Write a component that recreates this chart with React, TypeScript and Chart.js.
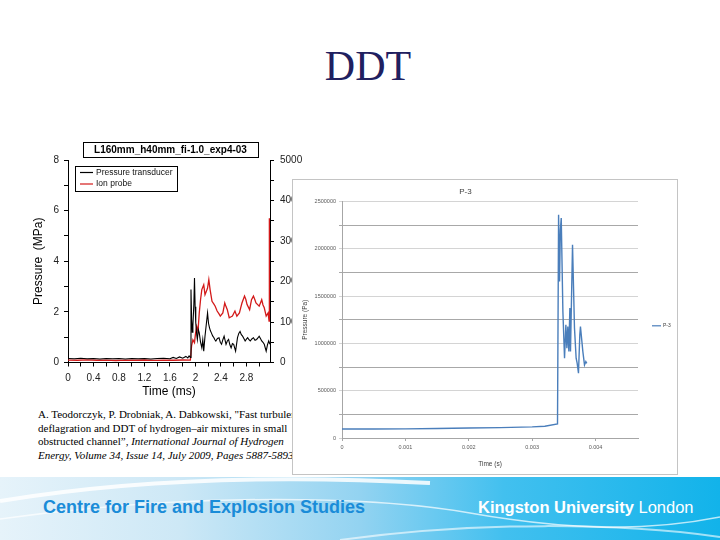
import React, { useEffect, useRef } from "react";
import { Chart, registerables } from "chart.js";

Chart.register(...registerables);

const SANS = '"Liberation Sans", Arial, Helvetica, sans-serif';
const SERIF = '"Liberation Serif", "Times New Roman", Times, serif';

// ---------------- slide text ----------------
const slideTitle = "DDT";
const footerLeft = "Centre for Fire and Explosion Studies";
const footerRightBold = "Kingston University";
const footerRightLight = "London";

// ---------------- left chart (experiment) ----------------
const leftChartTitle = "L160mm_h40mm_fi-1.0_exp4-03";
const leftSeriesNames = ["Pressure transducer", "Ion probe"];
const leftXTitle = "Time (ms)";
const leftYTitle = "Pressure  (MPa)";
const leftXTickLabels = ["0", "0.4", "0.8", "1.2", "1.6", "2", "2.4", "2.8"];
const leftYTickLabels = ["0", "2", "4", "6", "8"];
const leftY2TickLabels = ["0", "1000", "2000", "3000", "4000", "5000"];

// [time ms, pressure MPa]
const pressureTrace: [number, number][] = [
  [0, 0.16], [0.1, 0.15], [0.2, 0.17], [0.3, 0.15], [0.4, 0.16], [0.5, 0.14], [0.6, 0.16],
  [0.7, 0.15], [0.8, 0.16], [0.9, 0.14], [1.0, 0.16], [1.1, 0.15], [1.2, 0.16], [1.3, 0.14],
  [1.4, 0.16], [1.5, 0.17], [1.6, 0.15], [1.65, 0.2], [1.7, 0.16], [1.75, 0.22], [1.8, 0.17],
  [1.85, 0.24], [1.88, 0.18], [1.9, 0.26], [1.92, 0.2], [1.93, 2.88], [1.94, 1.7], [1.95, 1.2],
  [1.96, 1.45], [1.975, 2.3], [1.985, 3.34], [1.995, 2.2], [2.005, 1.57], [2.02, 1.1], [2.03, 0.91],
  [2.045, 1.3], [2.06, 1.17], [2.08, 0.8], [2.1, 0.58], [2.115, 0.9], [2.13, 0.45], [2.15, 1.04],
  [2.17, 1.5], [2.19, 1.96], [2.205, 1.55], [2.22, 1.38], [2.235, 1.25], [2.25, 1.17], [2.27, 1.05],
  [2.29, 0.98], [2.305, 0.9], [2.32, 0.85], [2.345, 0.95], [2.37, 0.98], [2.39, 0.8], [2.41, 0.72],
  [2.43, 0.9], [2.45, 1.04], [2.48, 0.72], [2.5, 0.85], [2.52, 0.91], [2.54, 0.7], [2.56, 0.58],
  [2.58, 0.75], [2.6, 0.72], [2.63, 0.45], [2.66, 0.98], [2.68, 1.15], [2.7, 1.23], [2.72, 1.1],
  [2.74, 1.04], [2.76, 0.95], [2.78, 0.85], [2.8, 0.92], [2.82, 0.98], [2.84, 0.9], [2.86, 0.85],
  [2.885, 0.93], [2.91, 0.98], [2.935, 0.88], [2.96, 0.91], [2.98, 0.97], [3.0, 1.04], [3.02, 0.95],
  [3.04, 0.85], [3.06, 0.8], [3.08, 0.72], [3.11, 0.45], [3.13, 0.7], [3.15, 0.85], [3.17, 0.72],
];

// [time ms, ion probe signal (right axis units)]
const ionTrace: [number, number][] = [
  [0, 60], [0.15, 55], [0.3, 65], [0.45, 55], [0.6, 60], [0.75, 50], [0.9, 60], [1.05, 55],
  [1.2, 62], [1.35, 52], [1.5, 60], [1.65, 55], [1.8, 62], [1.92, 58], [1.94, 420], [1.96, 560],
  [1.985, 490], [2.0, 700], [2.02, 890], [2.04, 770], [2.06, 1225], [2.08, 1550], [2.1, 1800],
  [2.13, 1920], [2.15, 1675], [2.17, 1750], [2.19, 1840], [2.21, 2045], [2.23, 1800], [2.26, 1510],
  [2.29, 1440], [2.31, 1390], [2.34, 1270], [2.37, 1200], [2.39, 1145], [2.43, 1225], [2.46, 1470],
  [2.48, 1380], [2.5, 1305], [2.53, 1105], [2.56, 1130], [2.58, 1145], [2.62, 1270], [2.65, 1145],
  [2.69, 1225], [2.71, 1350], [2.73, 1470], [2.77, 1640], [2.79, 1560], [2.81, 1430], [2.85, 1305],
  [2.88, 1550], [2.91, 1640], [2.93, 1560], [2.95, 1470], [3.0, 1390], [3.02, 1470], [3.04, 1550],
  [3.06, 1420], [3.08, 1350], [3.11, 1145], [3.14, 1225], [3.155, 1025], [3.16, 3560],
];

// ---------------- right chart (simulation P-3) ----------------
const rightChartTitle = "P-3";
const rightSeriesName = "P-3";
const rightXTitle = "Time (s)";
const rightYTitle = "Pressure (Pa)";
const rightXTickLabels = ["0", "0.001", "0.002", "0.003", "0.004"];
const rightYTickLabels = ["0", "500000", "1000000", "1500000", "2000000", "2500000"];

// [time s, pressure Pa]
const p3Trace: [number, number][] = [
  [0, 95000], [0.0005, 95000], [0.001, 97000], [0.0015, 100000], [0.002, 105000],
  [0.0025, 110000], [0.003, 118000], [0.0032, 125000], [0.0034, 150000], [0.003417, 2362000],
  [0.003432, 1656000], [0.003445, 2200000], [0.003459, 2327000], [0.003485, 1338000],
  [0.003511, 844000], [0.003532, 1197000], [0.003548, 950000], [0.003563, 1179000],
  [0.003579, 914000], [0.003595, 1374000], [0.003605, 914000], [0.003637, 2044000],
  [0.003668, 1162000], [0.003694, 844000], [0.00371, 791000], [0.003731, 685000],
  [0.003752, 1091000], [0.003762, 1179000], [0.0038, 914000], [0.003826, 773000],
  [0.003847, 808000], [0.003862, 790000],
];

const seriesColors = ["#000000", "#d31a1a", "#4a7ebb"];

const fmt = (v: number) => String(Math.round(v * 1e6) / 1e6);

const titleBoxPlugin = {
  id: "titleBox",
  afterDraw(chart: any) {
    const tb = chart.titleBlock;
    if (!tb) return;
    const ctx = chart.ctx;
    ctx.save();
    ctx.font = `bold 10px ${SANS}`;
    const tw = ctx.measureText(leftChartTitle).width;
    const cx = (tb.left + tb.right) / 2;
    const cy = tb.top + 8 + 6;
    ctx.strokeStyle = "#000";
    ctx.lineWidth = 1;
    ctx.strokeRect(Math.round(cx - tw / 2 - 11) + 0.5, Math.round(cy - 8) + 0.5, Math.round(tw + 22), 15);
    ctx.restore();
  },
};

const leftLegendPlugin = {
  id: "leftLegend",
  afterDraw(chart: any) {
    const { ctx, chartArea } = chart;
    const x = Math.round(chartArea.left + 7);
    const y = Math.round(chartArea.top + 6);
    ctx.save();
    ctx.fillStyle = "#fff";
    ctx.fillRect(x, y, 102, 25);
    ctx.strokeStyle = "#000";
    ctx.lineWidth = 1;
    ctx.strokeRect(x + 0.5, y + 0.5, 102, 25);
    ctx.font = `8.5px ${SANS}`;
    ctx.textBaseline = "middle";
    leftSeriesNames.forEach((name, i) => {
      const ly = y + 6.5 + i * 11.5;
      ctx.strokeStyle = seriesColors[i];
      ctx.lineWidth = 1.2;
      ctx.beginPath();
      ctx.moveTo(x + 5, ly);
      ctx.lineTo(x + 18, ly);
      ctx.stroke();
      ctx.fillStyle = "#111";
      ctx.fillText(name, x + 21, ly);
    });
    ctx.restore();
  },
};

const rightLegendPlugin = {
  id: "rightLegend",
  afterDraw(chart: any) {
    const { ctx, chartArea } = chart;
    const ly = (chartArea.top + chartArea.bottom) / 2 + 6;
    ctx.save();
    ctx.strokeStyle = seriesColors[2];
    ctx.lineWidth = 1.2;
    ctx.beginPath();
    ctx.moveTo(chartArea.right + 14, ly);
    ctx.lineTo(chartArea.right + 23, ly);
    ctx.stroke();
    ctx.fillStyle = "#404040";
    ctx.font = `5px ${SANS}`;
    ctx.textBaseline = "middle";
    ctx.fillText(rightSeriesName, chartArea.right + 25, ly);
    ctx.restore();
  },
};

export default function App() {
  const leftRef = useRef<HTMLCanvasElement | null>(null);
  const rightRef = useRef<HTMLCanvasElement | null>(null);

  useEffect(() => {
    Chart.defaults.font.family = SANS;
    const left = new Chart(leftRef.current as HTMLCanvasElement, {
      type: "line",
      data: {
        datasets: [
          {
            label: leftSeriesNames[0],
            data: pressureTrace.map(([x, y]) => ({ x, y })),
            borderColor: seriesColors[0],
            borderWidth: 1.1,
            pointRadius: 0,
            tension: 0,
            yAxisID: "y",
          },
          {
            label: leftSeriesNames[1],
            data: ionTrace.map(([x, y]) => ({ x, y })),
            borderColor: seriesColors[1],
            borderWidth: 1.3,
            pointRadius: 0,
            tension: 0,
            yAxisID: "y1",
          },
        ],
      },
      options: {
        animation: false,
        responsive: true,
        maintainAspectRatio: false,
        events: [],
        layout: { padding: { left: 6, right: 0, top: 0, bottom: 0 } },
        plugins: {
          legend: { display: false },
          tooltip: { enabled: false },
          title: {
            display: true,
            text: leftChartTitle,
            color: "#000",
            font: { size: 10, weight: "bold" },
            padding: { top: 8, bottom: 4 },
          },
        },
        scales: {
          x: {
            type: "linear",
            min: 0,
            max: 3.17,
            afterFit: (s: any) => { s.height = 37.5; },
            ticks: {
              stepSize: 0.2,
              includeBounds: false,
              autoSkip: false,
              maxRotation: 0,
              padding: 6,
              color: "#222",
              font: { size: 10 },
              callback: (v: any) => (leftXTickLabels.includes(fmt(Number(v))) ? fmt(Number(v)) : ""),
            },
            grid: { display: true, drawOnChartArea: false, drawTicks: true, tickLength: 4, color: "#000" },
            border: { display: true, color: "#000", width: 1 },
            title: { display: true, text: leftXTitle, color: "#000", font: { size: 12 }, padding: { top: 0, bottom: 1 } },
          },
          y: {
            type: "linear",
            position: "left",
            min: 0,
            max: 8,
            afterFit: (s: any) => { s.width = 42; },
            ticks: {
              stepSize: 1,
              includeBounds: false,
              autoSkip: false,
              padding: 5,
              color: "#222",
              font: { size: 10 },
              callback: (v: any) => (leftYTickLabels.includes(fmt(Number(v))) ? fmt(Number(v)) : ""),
            },
            grid: { display: true, drawOnChartArea: false, drawTicks: true, tickLength: 4, color: "#000" },
            border: { display: true, color: "#000", width: 1 },
            title: { display: true, text: leftYTitle, color: "#000", font: { size: 12 }, padding: { top: 5, bottom: 0 } },
          },
          y1: {
            type: "linear",
            position: "right",
            min: 0,
            max: 5000,
            afterFit: (s: any) => { s.width = 45; },
            ticks: {
              stepSize: 500,
              includeBounds: false,
              autoSkip: false,
              padding: 6,
              color: "#222",
              font: { size: 10 },
              callback: (v: any) => (leftY2TickLabels.includes(fmt(Number(v))) ? fmt(Number(v)) : ""),
            },
            grid: { display: true, drawOnChartArea: false, drawTicks: true, tickLength: 4, color: "#000" },
            border: { display: true, color: "#000", width: 1 },
          },
        },
      } as any,
      plugins: [titleBoxPlugin, leftLegendPlugin],
    });

    const right = new Chart(rightRef.current as HTMLCanvasElement, {
      type: "line",
      data: {
        datasets: [
          {
            label: rightSeriesName,
            data: p3Trace.map(([x, y]) => ({ x, y })),
            borderColor: seriesColors[2],
            borderWidth: 1.4,
            pointRadius: 0,
            tension: 0,
          },
        ],
      },
      options: {
        animation: false,
        responsive: true,
        maintainAspectRatio: false,
        events: [],
        layout: { padding: { left: 0, right: 39, top: 0, bottom: 0 } },
        plugins: {
          legend: { display: false },
          tooltip: { enabled: false },
          title: {
            display: true,
            text: rightChartTitle,
            color: "#404040",
            font: { size: 8, weight: "normal" },
            padding: { top: 7, bottom: 5 },
          },
        },
        scales: {
          x: {
            type: "linear",
            min: 0,
            max: 0.00467,
            afterFit: (s: any) => { s.height = 36; },
            ticks: {
              stepSize: 0.001,
              includeBounds: false,
              autoSkip: false,
              maxRotation: 0,
              padding: 3,
              color: "#595959",
              font: { size: 5.5 },
              callback: (v: any) => (rightXTickLabels.includes(fmt(Number(v))) ? fmt(Number(v)) : ""),
            },
            grid: { display: true, drawOnChartArea: false, drawTicks: true, tickLength: 3, color: "#a6a6a6" },
            border: { display: true, color: "#a6a6a6", width: 1 },
            title: { display: true, text: rightXTitle, color: "#404040", font: { size: 6.5 }, padding: { top: 0, bottom: 6 } },
          },
          y: {
            type: "linear",
            min: 0,
            max: 2500000,
            afterFit: (s: any) => { s.width = 49; },
            ticks: {
              stepSize: 250000,
              includeBounds: false,
              autoSkip: false,
              padding: 3,
              color: "#595959",
              font: { size: 5.5 },
              callback: (v: any) => (rightYTickLabels.includes(fmt(Number(v))) ? fmt(Number(v)) : ""),
            },
            grid: {
              display: true,
              drawTicks: true,
              tickLength: 3,
              color: (c: any) => (c.tick && c.tick.value % 500000 === 0 ? "#d4d4d4" : "#a8a8a8"),
            },
            border: { display: true, color: "#a6a6a6", width: 1 },
            title: { display: true, text: rightYTitle, color: "#404040", font: { size: 6.5 }, padding: { top: 8, bottom: 0 } },
          },
        },
      } as any,
      plugins: [rightLegendPlugin],
    });

    return () => {
      left.destroy();
      right.destroy();
    };
  }, []);

  return (
    <div
      style={{
        position: "fixed",
        left: 0,
        top: 0,
        width: 720,
        height: 540,
        background: "#fff",
        overflow: "hidden",
        fontFamily: SANS,
      }}
    >
      <div
        style={{
          position: "absolute",
          left: 0,
          top: 42,
          width: 736,
          textAlign: "center",
          fontFamily: SERIF,
          fontSize: 42,
          lineHeight: "48px",
          color: "#1f2060",
        }}
      >
        {slideTitle}
      </div>

      <div style={{ position: "absolute", left: 20, top: 136, width: 295, height: 264 }}>
        <canvas ref={leftRef} />
      </div>

      <div
        style={{
          position: "absolute",
          left: 38,
          top: 408,
          fontFamily: SERIF,
          fontSize: 11,
          lineHeight: "13.5px",
          color: "#000",
          whiteSpace: "nowrap",
        }}
      >
        A. Teodorczyk, P. Drobniak, A. Dabkowski, "Fast turbulent
        <br />
        deflagration and DDT of hydrogen–air mixtures in small
        <br />
        obstructed channel”, <i>International Journal of Hydrogen</i>
        <br />
        <i>Energy, Volume 34, Issue 14, July 2009, Pages 5887-5893.</i>
      </div>

      <div
        style={{
          position: "absolute",
          left: 292,
          top: 179,
          width: 386,
          height: 296,
          boxSizing: "border-box",
          border: "1px solid #c4c4c4",
          background: "#fff",
        }}
      >
        <div style={{ position: "relative", width: 384, height: 294 }}>
          <canvas ref={rightRef} />
        </div>
      </div>

      <div
        style={{
          position: "absolute",
          left: 0,
          top: 477,
          width: 720,
          height: 63,
          overflow: "hidden",
          background:
            "linear-gradient(90deg, #e6f3fa 0%, #cde8f6 25%, #93d3f1 50%, #42c0ef 70%, #12b3ea 100%)",
        }}
      >
        <svg width="720" height="63" style={{ position: "absolute", left: 0, top: 0 }}>
          <path d="M0 24 C 120 4, 260 -3, 430 6" stroke="#ffffff" strokeWidth="4" fill="none" opacity="0.85" />
          <path d="M0 42 C 200 14, 380 20, 470 36 S 640 56, 720 40" stroke="#ffffff" strokeWidth="1.5" fill="none" opacity="0.7" />
          <path d="M340 63 C 480 44, 620 46, 720 60" stroke="#ffffff" strokeWidth="2" fill="none" opacity="0.6" />
        </svg>
        <div
          style={{
            position: "absolute",
            left: 43,
            top: 20,
            fontSize: 18,
            lineHeight: "20px",
            fontWeight: "bold",
            color: "#1a8cd8",
            whiteSpace: "nowrap",
          }}
        >
          {footerLeft}
        </div>
        <div
          style={{
            position: "absolute",
            left: 478,
            top: 20,
            fontSize: 16.5,
            lineHeight: "20px",
            color: "#ffffff",
            whiteSpace: "nowrap",
          }}
        >
          <span style={{ fontWeight: "bold" }}>{footerRightBold}</span>{" "}
          <span style={{ fontWeight: "normal" }}>{footerRightLight}</span>
        </div>
      </div>
    </div>
  );
}
